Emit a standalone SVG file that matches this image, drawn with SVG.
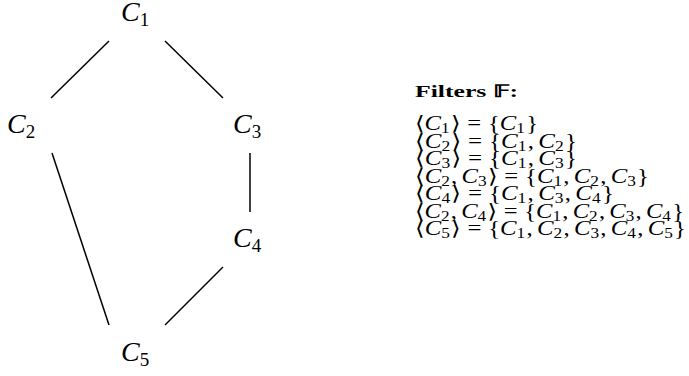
<svg xmlns="http://www.w3.org/2000/svg" width="689" height="376" viewBox="0 0 689 376">
<style>
.edge{stroke:#000;stroke-width:1.5;fill:none;stroke-linecap:butt}
.lbl{font-family:"Liberation Serif","DejaVu Serif",serif;font-size:28px;fill:#000}
.lbl .i{font-style:italic}
.lbl .s{font-size:19px}
.m{font-family:"Liberation Serif","DejaVu Serif",serif;font-size:20px;fill:#000}
.m .i{font-style:italic}
.m .s{font-size:14px}
.title{font-family:"Liberation Serif","DejaVu Serif",serif;font-size:17px;font-weight:bold;fill:#000}
</style>
<rect width="689" height="376" fill="#fff"/>
<g id="connectors">
<line class="edge" x1="109" y1="41" x2="51" y2="98"/>
<line class="edge" x1="165" y1="41" x2="223" y2="98"/>
<line class="edge" x1="250" y1="153" x2="250" y2="212"/>
<line class="edge" x1="52" y1="153" x2="109" y2="325"/>
<line class="edge" x1="223" y1="267" x2="165" y2="325"/>
</g>
<g id="C1"><text class="lbl" x="121" y="21"><tspan class="i">C</tspan><tspan class="s" dy="5">1</tspan></text></g>
<g id="C2"><text class="lbl" x="7" y="133"><tspan class="i">C</tspan><tspan class="s" dy="5">2</tspan></text></g>
<g id="C3"><text class="lbl" x="233" y="133"><tspan class="i">C</tspan><tspan class="s" dy="5">3</tspan></text></g>
<g id="C4"><text class="lbl" x="233" y="247"><tspan class="i">C</tspan><tspan class="s" dy="5">4</tspan></text></g>
<g id="C5"><text class="lbl" x="121" y="361"><tspan class="i">C</tspan><tspan class="s" dy="5">5</tspan></text></g>
<g id="filters">
<text class="title" x="415" y="97" textLength="103" lengthAdjust="spacingAndGlyphs">Filters 𝔽:</text>
<text class="m" x="415" y="130" textLength="123" lengthAdjust="spacingAndGlyphs">⟨<tspan class="i">C</tspan><tspan class="s" dy="3">1</tspan><tspan dy="-3" dx="1">⟩</tspan><tspan dx="5.5">=</tspan><tspan dx="5.5">{</tspan><tspan class="i">C</tspan><tspan class="s" dy="3">1</tspan><tspan dy="-3" dx="1">}</tspan></text>
<text class="m" x="415" y="147.5" textLength="162" lengthAdjust="spacingAndGlyphs">⟨<tspan class="i">C</tspan><tspan class="s" dy="3">2</tspan><tspan dy="-3" dx="1">⟩</tspan><tspan dx="5.5">=</tspan><tspan dx="5.5">{</tspan><tspan class="i">C</tspan><tspan class="s" dy="3">1</tspan><tspan dy="-3" dx="1">,</tspan><tspan class="i" dx="3.5">C</tspan><tspan class="s" dy="3">2</tspan><tspan dy="-3" dx="1">}</tspan></text>
<text class="m" x="415" y="165" textLength="162" lengthAdjust="spacingAndGlyphs">⟨<tspan class="i">C</tspan><tspan class="s" dy="3">3</tspan><tspan dy="-3" dx="1">⟩</tspan><tspan dx="5.5">=</tspan><tspan dx="5.5">{</tspan><tspan class="i">C</tspan><tspan class="s" dy="3">1</tspan><tspan dy="-3" dx="1">,</tspan><tspan class="i" dx="3.5">C</tspan><tspan class="s" dy="3">3</tspan><tspan dy="-3" dx="1">}</tspan></text>
<text class="m" x="415" y="182.5" textLength="234" lengthAdjust="spacingAndGlyphs">⟨<tspan class="i">C</tspan><tspan class="s" dy="3">2</tspan><tspan dy="-3" dx="1">,</tspan><tspan class="i" dx="3.5">C</tspan><tspan class="s" dy="3">3</tspan><tspan dy="-3" dx="1">⟩</tspan><tspan dx="5.5">=</tspan><tspan dx="5.5">{</tspan><tspan class="i">C</tspan><tspan class="s" dy="3">1</tspan><tspan dy="-3" dx="1">,</tspan><tspan class="i" dx="3.5">C</tspan><tspan class="s" dy="3">2</tspan><tspan dy="-3" dx="1">,</tspan><tspan class="i" dx="3.5">C</tspan><tspan class="s" dy="3">3</tspan><tspan dy="-3" dx="1">}</tspan></text>
<text class="m" x="415" y="200" textLength="199" lengthAdjust="spacingAndGlyphs">⟨<tspan class="i">C</tspan><tspan class="s" dy="3">4</tspan><tspan dy="-3" dx="1">⟩</tspan><tspan dx="5.5">=</tspan><tspan dx="5.5">{</tspan><tspan class="i">C</tspan><tspan class="s" dy="3">1</tspan><tspan dy="-3" dx="1">,</tspan><tspan class="i" dx="3.5">C</tspan><tspan class="s" dy="3">3</tspan><tspan dy="-3" dx="1">,</tspan><tspan class="i" dx="3.5">C</tspan><tspan class="s" dy="3">4</tspan><tspan dy="-3" dx="1">}</tspan></text>
<text class="m" x="415" y="217.5" textLength="269" lengthAdjust="spacingAndGlyphs">⟨<tspan class="i">C</tspan><tspan class="s" dy="3">2</tspan><tspan dy="-3" dx="1">,</tspan><tspan class="i" dx="3.5">C</tspan><tspan class="s" dy="3">4</tspan><tspan dy="-3" dx="1">⟩</tspan><tspan dx="5.5">=</tspan><tspan dx="5.5">{</tspan><tspan class="i">C</tspan><tspan class="s" dy="3">1</tspan><tspan dy="-3" dx="1">,</tspan><tspan class="i" dx="3.5">C</tspan><tspan class="s" dy="3">2</tspan><tspan dy="-3" dx="1">,</tspan><tspan class="i" dx="3.5">C</tspan><tspan class="s" dy="3">3</tspan><tspan dy="-3" dx="1">,</tspan><tspan class="i" dx="3.5">C</tspan><tspan class="s" dy="3">4</tspan><tspan dy="-3" dx="1">}</tspan></text>
<text class="m" x="415" y="235" textLength="271" lengthAdjust="spacingAndGlyphs">⟨<tspan class="i">C</tspan><tspan class="s" dy="3">5</tspan><tspan dy="-3" dx="1">⟩</tspan><tspan dx="5.5">=</tspan><tspan dx="5.5">{</tspan><tspan class="i">C</tspan><tspan class="s" dy="3">1</tspan><tspan dy="-3" dx="1">,</tspan><tspan class="i" dx="3.5">C</tspan><tspan class="s" dy="3">2</tspan><tspan dy="-3" dx="1">,</tspan><tspan class="i" dx="3.5">C</tspan><tspan class="s" dy="3">3</tspan><tspan dy="-3" dx="1">,</tspan><tspan class="i" dx="3.5">C</tspan><tspan class="s" dy="3">4</tspan><tspan dy="-3" dx="1">,</tspan><tspan class="i" dx="3.5">C</tspan><tspan class="s" dy="3">5</tspan><tspan dy="-3" dx="1">}</tspan></text>
</g>
</svg>
